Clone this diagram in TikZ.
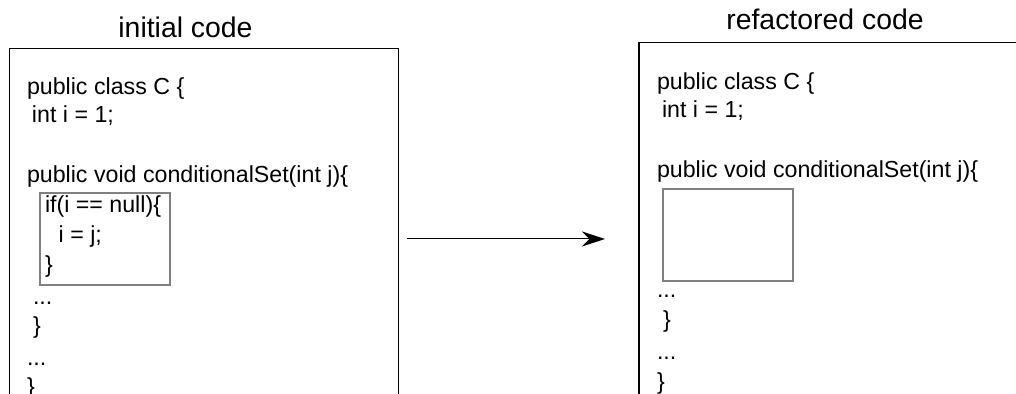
\documentclass[tikz,border=0pt]{standalone}
\usepackage{fontspec}
\setmainfont{Liberation Sans}
\usetikzlibrary{arrows.meta}
\tikzset{
  codeline/.style={anchor=base west, inner sep=0pt, outer sep=0pt,
                   font=\fontsize{11.6}{14}\selectfont},
  title/.style={anchor=base, inner sep=0pt, font=\fontsize{14.2}{17}\selectfont},
  codebox/.style={line width=0.75pt},
  extractbox/.style={draw=gray, line width=0.6pt}
}

\begin{document}
\begin{tikzpicture}[x=0.5pt,y=-0.5pt]
\useasboundingbox (0,0) rectangle (1016,394);
\clip (0,0) rectangle (1016,394);

% Titles
\node[title] (initial) at (185.5,38) {initial code};
\node[title] (refactored) at (825,30) {refactored code};

% Outer boxes
\draw[codebox] (9.3,48.3) rectangle (398.3,430);
\draw[codebox] (639,42.7) rectangle (1040,430);

% Inner boxes
\draw[extractbox] (40,193) rectangle (170,285);
\draw[extractbox] (663,189) rectangle (793,281);

% Code, initial
\foreach \x/\y/\txt [count=\n] in {27/95/{public class C \{}, 32/123/{int i = 1;},
    27/183/{public void conditionalSet(int j)\{}, 45/213/{if(i == null)\{},
    58.7/243/{i = j;}, 45/273/{\}}, 33/305/{...}, 33/334/{\}}, 27/366/{...}, 27/395/{\}}} {
  \node[codeline] (init\n) at (\x,\y) {\txt};
}

% Code, refactored
\foreach \x/\y/\txt [count=\n] in {657/90/{public class C \{}, 662/118/{int i = 1;},
    657/178/{public void conditionalSet(int j)\{}, 657/298/{...}, 663/328/{\}},
    657/360/{...}, 657/390/{\}}} {
  \node[codeline] (refac\n) at (\x,\y) {\txt};
}

% Arrow
\coordinate (from) at (407,239);
\coordinate (to) at (605,239);
\draw[-{Stealth[length=11.5pt,width=7.5pt]}, line width=0.5pt] (from) -- (to);
\end{tikzpicture}
\end{document}
